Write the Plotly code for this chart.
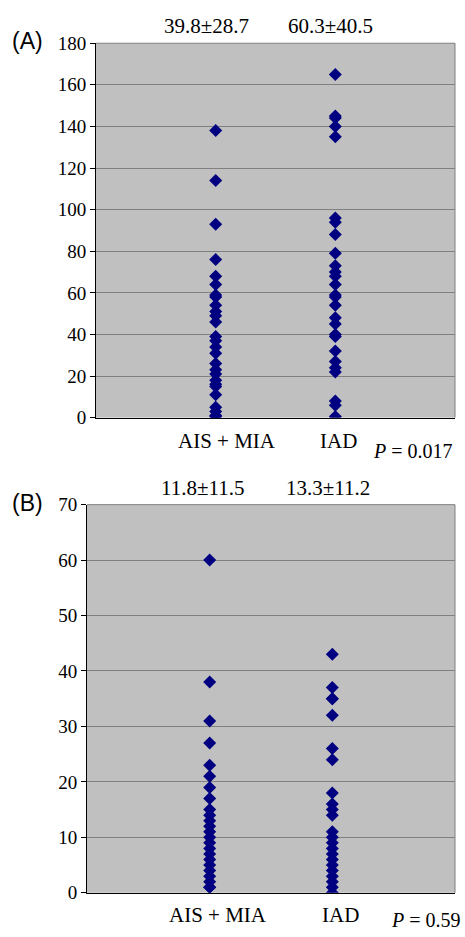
import plotly.graph_objects as go

categories = ["AIS + MIA", "IAD"]

# Panel A values
a_ais = [138, 114, 93, 76, 68, 64, 59, 58, 54, 51, 49, 46, 39, 37, 34, 31, 26, 23, 21, 18, 16, 15, 11, 5, 3, 1, 0.5]
a_iad = [165, 145, 144, 140, 135, 96, 94, 88, 79, 73, 70, 68, 64, 59, 58, 54, 48, 45, 40, 39, 32, 27, 24, 22, 8, 6, 0.5]
# Panel B values
b_ais = [60, 38, 31, 27, 23, 21, 19, 17, 15, 14, 13, 12, 11, 10, 9, 8, 7, 6, 5, 4, 3, 2, 1, 1]
b_iad = [43, 37, 35, 35, 32, 26, 24, 18, 16, 15, 14, 11, 10, 9, 8, 7, 6, 5, 4, 3, 2, 1, 0]

means = [["39.8\u00b128.7", "60.3\u00b140.5"], ["11.8\u00b111.5", "13.3\u00b111.2"]]
pvals = ["0.017", "0.59"]
panel_labels = ["(A)", "(B)"]
yranges = [[0, 180], [0, 70]]
ydticks = [20, 10]

NAVY = "#000080"
serif = "Liberation Serif"

fig = go.Figure()

panels = [(a_ais, a_iad), (b_ais, b_iad)]
W, H = 465, 937
xdoms = [[96 / W, 455 / W], [87 / W, 455 / W]]
ydoms = [[(H - 417) / H, (H - 34) / H], [(H - 903) / H, (H - 506) / H]]

for i, (g1, g2) in enumerate(panels):
    xa = "x" if i == 0 else "x2"
    ya = "y" if i == 0 else "y2"
    xs = [1] * len(g1) + [2] * len(g2)
    ys = g1 + g2
    fig.add_trace(go.Scatter(
        x=xs, y=ys, mode="markers", xaxis=xa, yaxis=ya,
        marker=dict(symbol="diamond", size=10, color=NAVY, line=dict(width=0)),
        showlegend=False, hoverinfo="y"))

axis_common_y = dict(showgrid=True, gridcolor="#808080", gridwidth=1,
                     showline=True, linecolor="black", linewidth=1,
                     ticks="outside", ticklen=5, tickcolor="black",
                     tickfont=dict(family=serif, size=19, color="black"),
                     zeroline=False, fixedrange=True)
axis_common_x = dict(range=[0, 3], showgrid=False, showticklabels=False,
                     showline=True, linecolor="black", linewidth=1,
                     ticks="", zeroline=False, fixedrange=True)

fig.update_layout(
    width=W, height=H,
    margin=dict(l=0, r=0, t=0, b=0),
    paper_bgcolor="white", plot_bgcolor="#C0C0C0",
    xaxis=dict(domain=xdoms[0], anchor="y", **axis_common_x),
    yaxis=dict(domain=ydoms[0], anchor="x", range=yranges[0], dtick=ydticks[0], **axis_common_y),
    xaxis2=dict(domain=xdoms[1], anchor="y2", **axis_common_x),
    yaxis2=dict(domain=ydoms[1], anchor="x2", range=yranges[1], dtick=ydticks[1], **axis_common_y),
)

mean_shift = [[-9, -5], [-7, -4]]
cat_shift = [[11, 3], [8, 8]]
cat_y = [-9, -8]
p_shift = [(0, -20), (8, -14)]

shapes = []
annotations = []
for i in range(2):
    xd, yd = xdoms[i], ydoms[i]
    shapes.append(dict(type="line", xref="paper", yref="paper", x0=xd[0], x1=xd[1], y0=yd[1], y1=yd[1],
                       line=dict(color="#808080", width=1)))
    shapes.append(dict(type="line", xref="paper", yref="paper", x0=xd[1], x1=xd[1], y0=yd[0], y1=yd[1],
                       line=dict(color="#808080", width=1)))
    xr = "x" if i == 0 else "x2"
    for j, m in enumerate(means[i]):
        annotations.append(dict(x=j + 1, y=yd[1], xref=xr, yref="paper", text=m, showarrow=False,
                                xanchor="center", yanchor="bottom", xshift=mean_shift[i][j], yshift=3,
                                font=dict(family=serif, size=21, color="black")))
    for j, c in enumerate(categories):
        annotations.append(dict(x=j + 1, y=yd[0], xref=xr, yref="paper", text=c, showarrow=False,
                                xanchor="center", yanchor="top", xshift=cat_shift[i][j], yshift=cat_y[i],
                                font=dict(family=serif, size=21, color="black")))
    annotations.append(dict(x=xd[1], y=yd[0], xref="paper", yref="paper",
                            text="<i>P</i> = " + pvals[i], showarrow=False,
                            xanchor="right", yanchor="top", xshift=p_shift[i][0], yshift=p_shift[i][1],
                            font=dict(family=serif, size=20, color="black")))
    annotations.append(dict(x=10 / W, y=yd[1], xref="paper", yref="paper", text=panel_labels[i],
                            showarrow=False, xanchor="left", yanchor="middle", yshift=2,
                            font=dict(family="Liberation Sans", size=23, color="black")))

fig.update_layout(shapes=shapes, annotations=annotations)
fig.write_html("out.html", config={"displayModeBar": False},
               post_script="document.body.style.margin='0';document.body.style.overflow='hidden';")
